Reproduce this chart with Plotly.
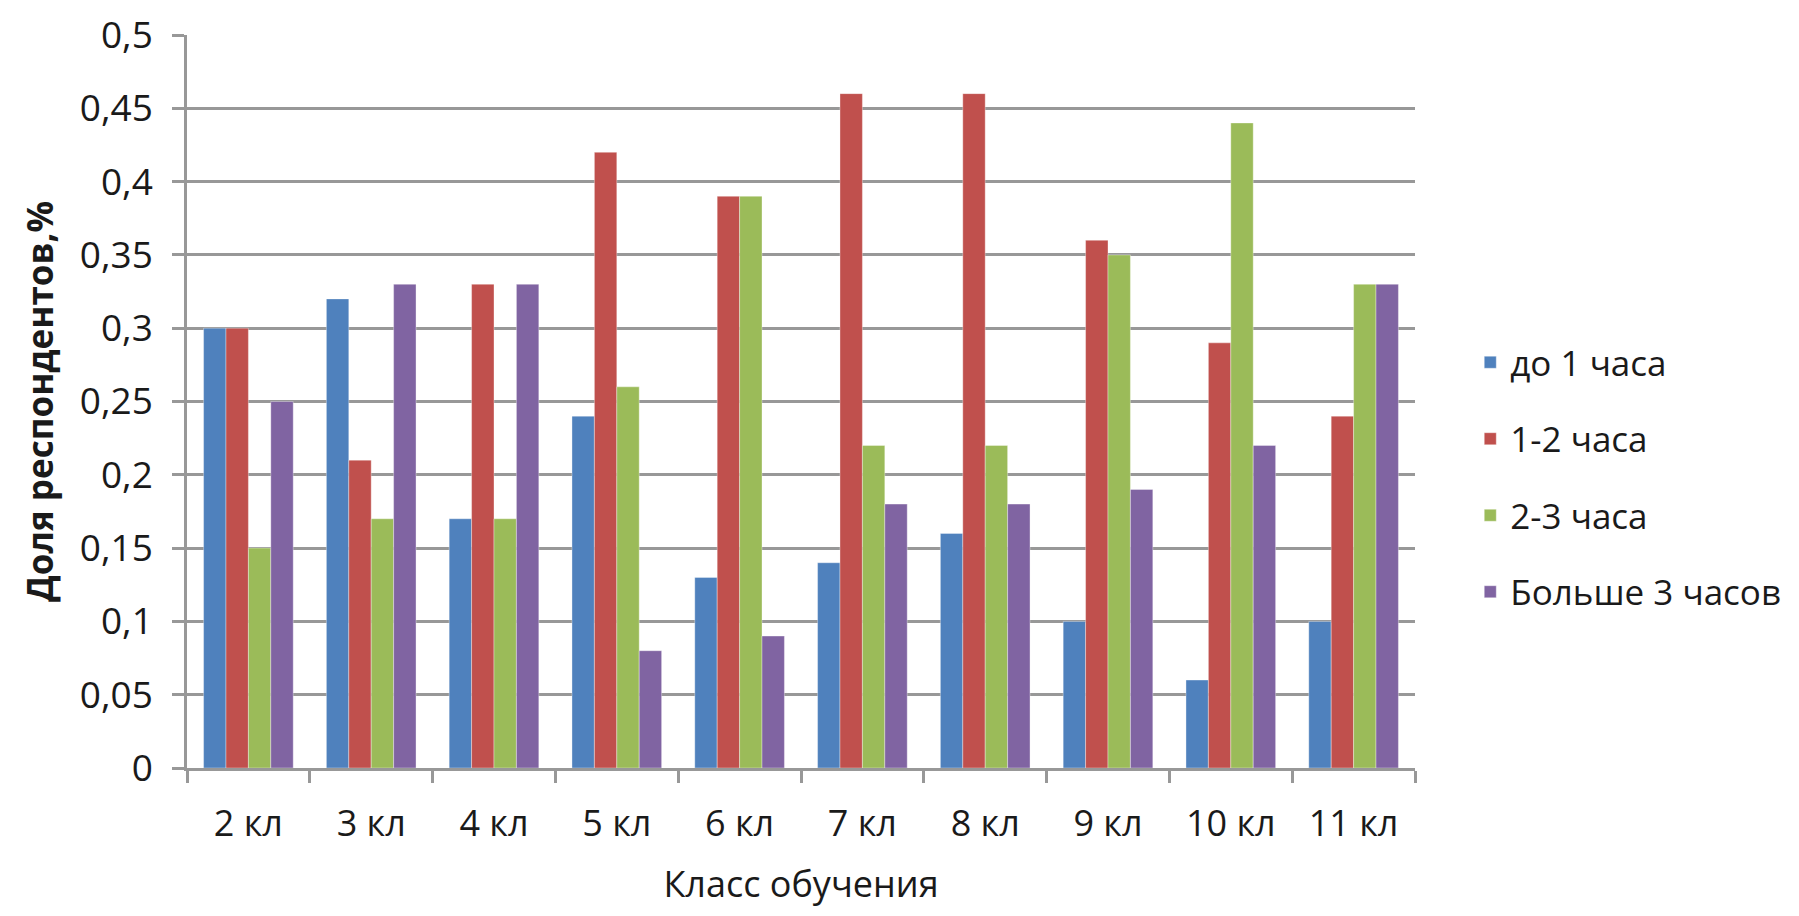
import plotly.graph_objects as go

categories = ["2 кл", "3 кл", "4 кл", "5 кл", "6 кл", "7 кл", "8 кл", "9 кл", "10 кл", "11 кл"]
series_names = ["до 1 часа", "1-2 часа", "2-3 часа", "Больше 3 часов"]
s_up_to_1 = [0.30, 0.32, 0.17, 0.24, 0.13, 0.14, 0.16, 0.10, 0.06, 0.10]
s_1_2 = [0.30, 0.21, 0.33, 0.42, 0.39, 0.46, 0.46, 0.36, 0.29, 0.24]
s_2_3 = [0.15, 0.17, 0.17, 0.26, 0.39, 0.22, 0.22, 0.35, 0.44, 0.33]
s_over_3 = [0.25, 0.33, 0.33, 0.08, 0.09, 0.18, 0.18, 0.19, 0.22, 0.33]
y_ticks = [0, 0.05, 0.1, 0.15, 0.2, 0.25, 0.3, 0.35, 0.4, 0.45, 0.5]
y_tick_labels = ["0", "0,05", "0,1", "0,15", "0,2", "0,25", "0,3", "0,35", "0,4", "0,45", "0,5"]

colors = ["#4F81BD", "#C0504D", "#9BBB59", "#8064A2"]
all_series = [s_up_to_1, s_1_2, s_2_3, s_over_3]

FONT = "Open Sans"
GRID = "#989898"
TXT = "#1a1a1a"

fig = go.Figure()
for name, vals, col in zip(series_names, all_series, colors):
    fig.add_trace(go.Bar(
        x=categories, y=vals, name=name, legendgroup=name,
        marker=dict(color=col, line=dict(color="rgba(255,255,255,0.35)", width=1)),
    ))

fig.update_layout(
    width=1799, height=916,
    margin=dict(l=187, r=384, t=35, b=148),
    paper_bgcolor="white", plot_bgcolor="white",
    barmode="group", bargap=0.27, bargroupgap=0,
    font=dict(family=FONT, color=TXT),
    showlegend=True,
    legend=dict(
        x=1.045, xanchor="left", y=0.397, yanchor="middle",
        font=dict(size=35, family=FONT, color=TXT),
        tracegroupgap=28, traceorder="grouped",
        bgcolor="rgba(0,0,0,0)",
    ),
    xaxis=dict(
        type="category", automargin=False,
        showline=True, linecolor=GRID, linewidth=2.5,
        ticks="outside", tickson="boundaries", ticklen=12, tickwidth=2.5, tickcolor=GRID,
        tickfont=dict(size=36, family=FONT, color=TXT),
        ticklabelstandoff=22,
        showgrid=False,
        title=dict(text="Класс обучения", font=dict(size=36, family=FONT, color=TXT), standoff=26),
    ),
    yaxis=dict(
        range=[0, 0.5], automargin=False,
        tickvals=y_ticks, ticktext=y_tick_labels,
        showline=True, linecolor=GRID, linewidth=2.5,
        ticks="outside", ticklen=12, tickwidth=2.5, tickcolor=GRID,
        ticklabelstandoff=12,
        showgrid=True, gridcolor=GRID, gridwidth=2.5,
        zeroline=False,
        tickfont=dict(size=37, family=FONT, color=TXT),
        title=dict(text="<b>Доля респондентов,%</b>", font=dict(size=35, family=FONT, color=TXT), standoff=16),
    ),
)

fig.write_html("out.html")
